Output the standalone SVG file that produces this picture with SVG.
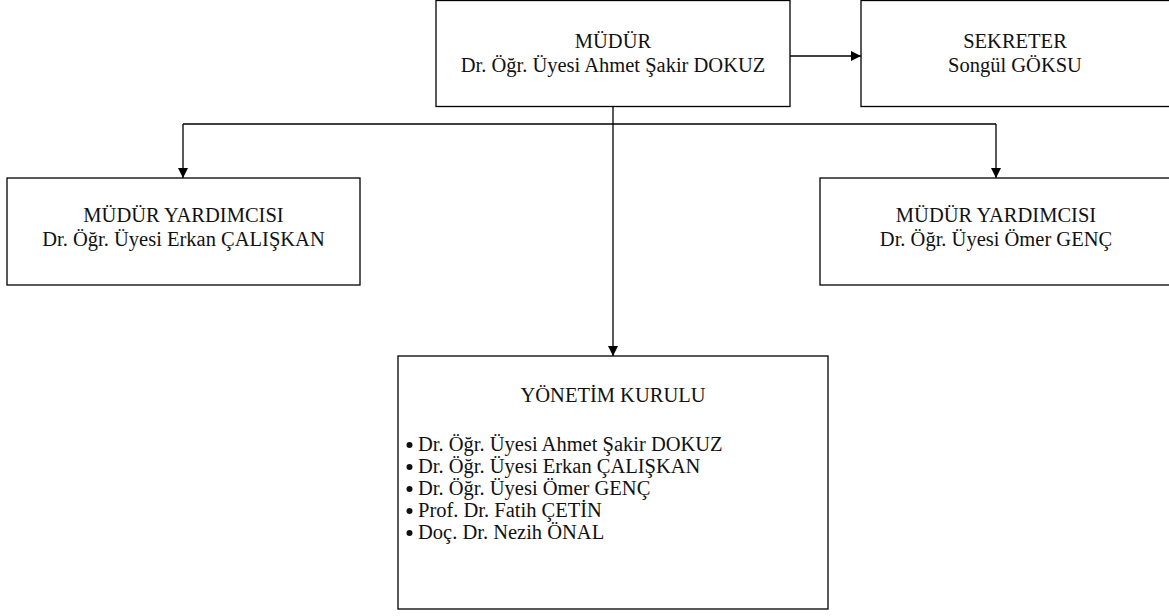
<svg xmlns="http://www.w3.org/2000/svg" width="1169" height="616" viewBox="0 0 1169 616">
<defs>
<marker id="arr" viewBox="0 0 10 10" refX="10" refY="5" markerWidth="10" markerHeight="10" markerUnits="userSpaceOnUse" orient="auto">
<path d="M0,0 L10,5 L0,10 Z" fill="#000"/>
</marker>
<style>
.box{fill:#fff;stroke:#000;stroke-width:1.3}
.t{font-family:"Liberation Serif","Times New Roman",serif;font-size:20.5px;fill:#111}
.c{text-anchor:middle}
.dot{fill:#111}
.ln{fill:none;stroke:#000;stroke-width:1.3}
</style>
</defs>
<rect width="1169" height="616" fill="#fff"/>
<g id="connectors">
<line class="ln" x1="790" y1="56" x2="861" y2="56" marker-end="url(#arr)"/>
<line class="ln" x1="613" y1="106" x2="613" y2="356" marker-end="url(#arr)"/>
<line class="ln" x1="183" y1="124" x2="996" y2="124"/>
<line class="ln" x1="183" y1="124" x2="183" y2="178" marker-end="url(#arr)"/>
<line class="ln" x1="996" y1="124" x2="996" y2="178" marker-end="url(#arr)"/>
</g>
<g id="mudur">
<rect class="box" x="436" y="0.5" width="354" height="106"/>
<text class="t c" x="613" y="48">MÜDÜR</text>
<text class="t c" x="613" y="72">Dr. Öğr. Üyesi Ahmet Şakir DOKUZ</text>
</g>
<g id="sekreter">
<rect class="box" x="861" y="0.5" width="320" height="106"/>
<text class="t c" x="1015" y="48">SEKRETER</text>
<text class="t c" x="1015" y="72">Songül GÖKSU</text>
</g>
<g id="mudur-yardimcisi-1">
<rect class="box" x="7" y="178" width="353" height="107"/>
<text class="t c" x="183.5" y="222">MÜDÜR YARDIMCISI</text>
<text class="t c" x="183.5" y="246">Dr. Öğr. Üyesi Erkan ÇALIŞKAN</text>
</g>
<g id="mudur-yardimcisi-2">
<rect class="box" x="820" y="178" width="360" height="107"/>
<text class="t c" x="996" y="222">MÜDÜR YARDIMCISI</text>
<text class="t c" x="996" y="246">Dr. Öğr. Üyesi Ömer GENÇ</text>
</g>
<g id="yonetim-kurulu">
<rect class="box" x="398" y="356" width="430" height="253"/>
<text class="t c" x="613" y="402">YÖNETİM KURULU</text>
<circle class="dot" cx="409.5" cy="445" r="3"/>
<circle class="dot" cx="409.5" cy="467" r="3"/>
<circle class="dot" cx="409.5" cy="489" r="3"/>
<circle class="dot" cx="409.5" cy="511" r="3"/>
<circle class="dot" cx="409.5" cy="533" r="3"/>
<text class="t" x="418" y="451">Dr. Öğr. Üyesi Ahmet Şakir DOKUZ</text>
<text class="t" x="418" y="473">Dr. Öğr. Üyesi Erkan ÇALIŞKAN</text>
<text class="t" x="418" y="495">Dr. Öğr. Üyesi Ömer GENÇ</text>
<text class="t" x="418" y="517">Prof. Dr. Fatih ÇETİN</text>
<text class="t" x="418" y="539">Doç. Dr. Nezih ÖNAL</text>
</g>
</svg>
